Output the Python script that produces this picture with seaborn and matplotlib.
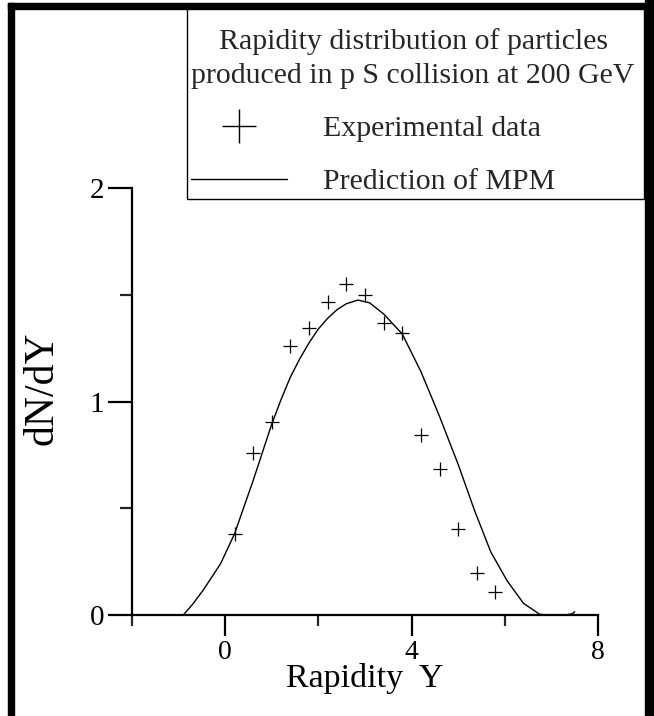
import matplotlib
matplotlib.use("Agg")
import matplotlib.pyplot as plt
import seaborn as sns
from matplotlib.patches import Rectangle
from matplotlib.lines import Line2D

# experimental points (rapidity, dN/dY)
exp_rap = [0.2, 0.6, 1.0, 1.4, 1.8, 2.2, 2.6, 3.0, 3.4, 3.8, 4.2, 4.6, 5.0, 5.4, 5.8]
exp_dndy = [0.38, 0.76, 0.905, 1.26, 1.345, 1.465, 1.55, 1.50, 1.37, 1.32,
            0.845, 0.685, 0.405, 0.195, 0.11]

# MPM prediction curve
mpm_rap = [-0.9, -0.7, -0.47, -0.1, 0.2, 0.6, 1.0, 1.2, 1.4, 1.6, 1.8, 2.0, 2.2,
           2.4, 2.6, 2.85, 3.1, 3.4, 3.8, 4.2, 4.6, 5.0, 5.35, 5.7, 6.05, 6.4,
           6.75, 7.0, 7.3, 7.45, 7.5]
mpm_dndy = [0.0, 0.05, 0.117, 0.24, 0.38, 0.63, 0.895, 1.01, 1.115, 1.2, 1.275,
            1.34, 1.39, 1.43, 1.458, 1.475, 1.462, 1.41, 1.316, 1.14, 0.93,
            0.705, 0.49, 0.295, 0.16, 0.055, 0.003, 0.0, 0.0, 0.006, 0.015]

x_major = [0, 4, 8]
x_minor = [-2, 2, 6]
y_major = [0, 1, 2]
y_minor = [0.5, 1.5]

legend_title = "Rapidity distribution of particles\nproduced in p S collision at 200 GeV"
exp_label = "Experimental data"
mpm_label = "Prediction of MPM"

sns.set_theme(style="white")
plt.rcParams['font.family'] = ['Liberation Serif', 'DejaVu Serif']

W, H = 654, 716
fig = plt.figure(figsize=(W / 100, H / 100), dpi=100)
ax = fig.add_axes([132 / W, 1 - 615 / H, (598 - 132) / W, (615 - 188) / H])

sns.lineplot(x=mpm_rap, y=mpm_dndy, color="black", linewidth=1.0,
             estimator=None, sort=False, ax=ax)
sns.scatterplot(x=exp_rap, y=exp_dndy, marker="+", s=110, color="black",
                linewidth=0.9, ax=ax)

ax.set_xlim(-2, 8)
ax.set_ylim(0, 2)
sns.despine(ax=ax)
for side in ["left", "bottom"]:
    ax.spines[side].set_linewidth(1.6)
    ax.spines[side].set_color("black")

ax.set_xticks(x_major)
ax.set_xticks(x_minor, minor=True)
ax.set_yticks(y_major)
ax.set_yticks(y_minor, minor=True)
ax.tick_params(axis="x", which="major", direction="out", length=15, width=1.6,
               labelsize=20, pad=3, colors="black", bottom=True)
ax.tick_params(axis="x", which="minor", direction="out", length=8, width=1.6,
               bottom=True)
ax.tick_params(axis="y", which="major", direction="out", length=17, width=1.6,
               labelsize=21, pad=3, colors="black", left=True)
ax.tick_params(axis="y", which="minor", direction="out", length=8.5, width=1.6,
               left=True)

ax.set_xlabel("Rapidity  Y", fontsize=24.5, color="black")
ax.set_ylabel("dN/dY", fontsize=30, color="black")
ax.xaxis.set_label_coords(0.5, -0.112)
ax.yaxis.set_label_coords(-0.152, 0.53)

handles = [
    Line2D([], [], marker="+", linestyle="none", color="black",
           markersize=24, markeredgewidth=1.0),
    Line2D([], [], color="black", linewidth=1.0),
]
leg = fig.legend(handles, [exp_label, mpm_label], title=legend_title,
                 loc="upper left", bbox_to_anchor=(184 / W, 1 - 21 / H),
                 fontsize=21.5, title_fontsize=21.5, frameon=False,
                 borderpad=0.25, labelspacing=0.87, handlelength=3.2,
                 handletextpad=1.2, alignment="left", borderaxespad=0)
leg.get_title().set_multialignment("center")
leg.get_title().set_linespacing(1.4)

# legend box drawn by hand so its top edge sits under the frame
fig.patches.append(Rectangle((187 / W, 1 - 199 / H), (644 - 187) / W, (199 - 8) / H,
                             transform=fig.transFigure, fill=False,
                             edgecolor="black", linewidth=1.0, zorder=5))

# thick outer frame of the scanned figure
for x0, y0, w, h in [(8, 3, W - 8, 6), (8, 3, 6, H - 3), (645, 0, 9, H)]:
    fig.patches.append(Rectangle((x0 / W, 1 - (y0 + h) / H), w / W, h / H,
                                 transform=fig.transFigure, color="black",
                                 zorder=10))

fig.savefig("out.png", dpi=100)
